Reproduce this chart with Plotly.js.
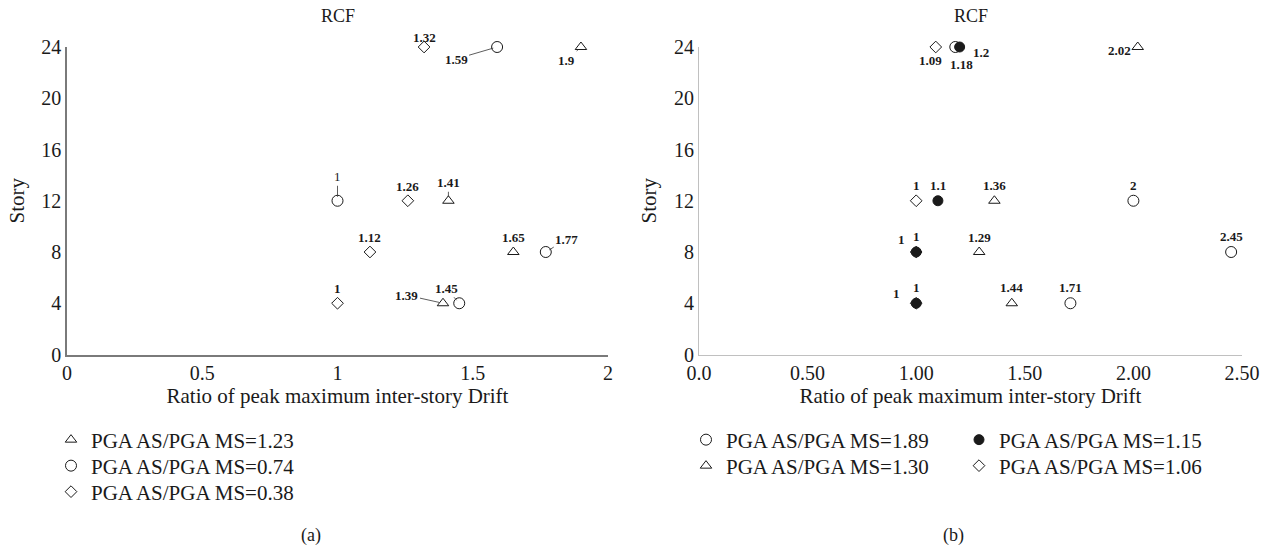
<!DOCTYPE html>
<html>
<head>
<meta charset="utf-8">
<script src="https://cdn.plot.ly/plotly-3.0.1.min.js"></script>
<style>
  html, body { margin: 0; padding: 0; background: #fff; }
  #chart { width: 1269px; height: 550px; }
</style>
</head>
<body>
<div id="chart"></div>
<script>
// Story levels shared by every series
const stories = [24, 12, 8, 4];

// (a) peak inter-story drift ratios
const driftA_123 = [1.9, 1.41, 1.65, 1.39];
const driftA_074 = [1.59, 1, 1.77, 1.45];
const driftA_038 = [1.32, 1.26, 1.12, 1];

// (b) peak inter-story drift ratios
const driftB_189 = [1.18, 2, 2.45, 1.71];
const driftB_115 = [1.2, 1.1, 1, 1];
const driftB_130 = [2.02, 1.36, 1.29, 1.44];
const driftB_106 = [1.09, 1, 1, 1];

// Axis ticks
const storyTicks = [0, 4, 8, 12, 16, 20, 24];
const xTicksA = [0, 0.5, 1, 1.5, 2];
const xTickTextA = ['0', '0.5', '1', '1.5', '2'];
const xTicksB = [0, 0.5, 1, 1.5, 2, 2.5];
const xTickTextB = ['0.0', '0.50', '1.00', '1.50', '2.00', '2.50'];

const SERIF = 'Liberation Serif, Times New Roman, serif';
const INK = '#1a1a1a';

function series(x, name, symbol, size, xa, ya, legend) {
  return {
    type: 'scatter', mode: 'markers', x: x, y: stories, name: name,
    xaxis: xa, yaxis: ya, legend: legend, cliponaxis: false,
    marker: { symbol: symbol, size: size, color: INK, line: { color: INK, width: 1 } },
    hoverinfo: 'x+y'
  };
}

// each legend row is its own legend box so rows can sit at their own spacing
const traces = [
  series(driftA_123, 'PGA AS/PGA MS=1.23', 'triangle-up-open', 10, 'x', 'y', 'legend'),
  series(driftA_074, 'PGA AS/PGA MS=0.74', 'circle-open', 11, 'x', 'y', 'legend2'),
  series(driftA_038, 'PGA AS/PGA MS=0.38', 'diamond-open', 9, 'x', 'y', 'legend3'),
  series(driftB_189, 'PGA AS/PGA MS=1.89', 'circle-open', 11, 'x2', 'y2', 'legend4'),
  series(driftB_130, 'PGA AS/PGA MS=1.30', 'triangle-up-open', 10, 'x2', 'y2', 'legend5'),
  series(driftB_115, 'PGA AS/PGA MS=1.15', 'circle', 10, 'x2', 'y2', 'legend6'),
  series(driftB_106, 'PGA AS/PGA MS=1.06', 'diamond-open', 9, 'x2', 'y2', 'legend7')
];

// Label placement per point: [dx, dy] in px (dy positive = up); a third entry draws a leader line
const placeA = {
  t123: [[-14, -13, true], [0, 18, true], [0, 15], [-36, 8, true]],
  c074: [[-41, -12, true], [0, 24, true], [21, 13, true], [-13, 15, true]],
  d038: [[0, 10], [0, 14], [0, 15], [0, 15]]
};
const placeB = {
  c189: [[6, -17], [0, 15], [0, 16], [0, 16]],
  f115: [[21, -5], [0, 15], [0, 16], [0, 16]],
  t130: [[-18, -3], [0, 15], [0, 15], [0, 16]],
  d106: [[-5, -13], [0, 15], [-15, 13], [-20, 10]]
};

const annotations = [];
function labels(values, place, xref, yref, plainIdx) {
  values.forEach((v, i) => {
    const p = place[i];
    const bold = plainIdx !== i;
    const a = {
      x: v, y: stories[i], xref: xref, yref: yref,
      text: bold ? '<b>' + v + '</b>' : String(v),
      font: { family: SERIF, size: 13, color: INK },
      showarrow: !!p[2]
    };
    if (p[2]) {
      Object.assign(a, { ax: p[0], ay: -p[1], arrowhead: 0, arrowwidth: 0.8,
        arrowcolor: '#333', standoff: 4, startstandoff: 0 });
    } else {
      Object.assign(a, { xshift: p[0], yshift: p[1] });
    }
    annotations.push(a);
  });
}
labels(driftA_123, placeA.t123, 'x', 'y');
labels(driftA_074, placeA.c074, 'x', 'y', 1);
labels(driftA_038, placeA.d038, 'x', 'y');
labels(driftB_189, placeB.c189, 'x2', 'y2');
labels(driftB_115, placeB.f115, 'x2', 'y2');
labels(driftB_130, placeB.t130, 'x2', 'y2');
labels(driftB_106, placeB.d106, 'x2', 'y2');

// Panel titles and sub-figure captions
const paperText = (text, x, y, size) => ({
  text: text, x: x, y: y, xref: 'paper', yref: 'paper', showarrow: false,
  xanchor: 'center', yanchor: 'middle', font: { family: SERIF, size: size, color: INK }
});
annotations.push(paperText('RCF', 337.5 / 1269, 1 - 16 / 550, 18));
annotations.push(paperText('RCF', 970.5 / 1269, 1 - 16 / 550, 18));
annotations.push(paperText('(a)', 311 / 1269, 1 - 535 / 550, 18));
annotations.push(paperText('(b)', 953 / 1269, 1 - 535 / 550, 18));

const yDomain = [1 - 354.5 / 550, 1 - 47 / 550];
const tickFont = { family: SERIF, size: 20, color: INK };
const titleFont = { family: SERIF, size: 21, color: INK };

function xAxis(domain, ticks, text, lineColor, lineWidth, anchor) {
  return {
    domain: domain, range: [0, ticks[ticks.length - 1]], anchor: anchor,
    tickvals: ticks, ticktext: text, tickfont: tickFont,
    showline: true, linecolor: lineColor, linewidth: lineWidth,
    showgrid: false, zeroline: false, ticks: '', automargin: false, fixedrange: true,
    title: { text: 'Ratio of peak maximum inter-story Drift', font: titleFont, standoff: 5 }
  };
}
function yAxis(anchor, lineColor, lineWidth) {
  return {
    domain: yDomain, range: [0, 24], anchor: anchor,
    tickvals: storyTicks, tickfont: tickFont,
    showline: true, linecolor: lineColor, linewidth: lineWidth,
    showgrid: false, zeroline: false, ticks: '', automargin: false, fixedrange: true,
    title: { text: 'Story', font: titleFont, standoff: 11 }
  };
}

const legendRow = (xPx, yPx) => ({
  x: xPx / 1269, y: 1 - yPx / 550, xanchor: 'left', yanchor: 'middle', orientation: 'v',
  bgcolor: 'rgba(0,0,0,0)', borderwidth: 0,
  font: { family: SERIF, size: 21, color: INK }, itemclick: false, itemdoubleclick: false
});

const layout = {
  width: 1269, height: 550,
  margin: { l: 0, r: 0, t: 0, b: 0 },
  paper_bgcolor: '#fff', plot_bgcolor: '#fff',
  showlegend: true,
  xaxis: xAxis([67 / 1269, 608 / 1269], xTicksA, xTickTextA, '#7a7a7a', 1.5, 'y'),
  yaxis: yAxis('x', '#7a7a7a', 1.5),
  xaxis2: xAxis([699 / 1269, 1242 / 1269], xTicksB, xTickTextB, '#c0c0c0', 1, 'y2'),
  yaxis2: yAxis('x2', '#c0c0c0', 1),
  legend: legendRow(51, 440),
  legend2: legendRow(51, 466),
  legend3: legendRow(51, 492),
  legend4: legendRow(686, 440),
  legend5: legendRow(686, 466),
  legend6: legendRow(959, 440),
  legend7: legendRow(959, 466),
  annotations: annotations
};

Plotly.newPlot('chart', traces, layout, { displayModeBar: false });
</script>
</body>
</html>
